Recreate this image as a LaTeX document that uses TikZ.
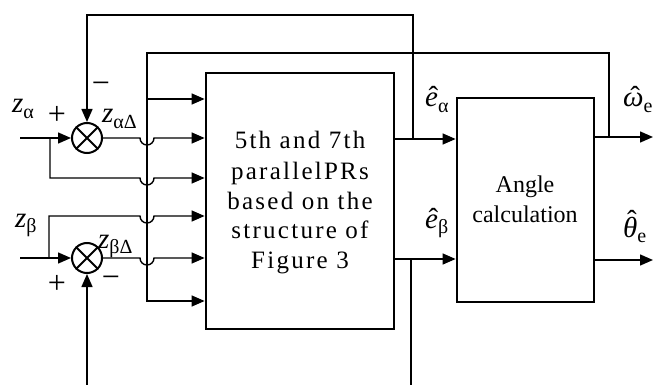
\documentclass[tikz,border=0pt]{standalone}
\usepackage{fontspec}
\setmainfont{Liberation Serif}
\newfontfamily\prfont[LetterSpace=9]{Liberation Serif}
\usetikzlibrary{arrows.meta}
\newcommand{\lsub}[1]{\raisebox{-0.2em}{\fontsize{20}{20}\selectfont #1}}
\newcommand{\hatl}[2][0em]{\ooalign{\textit{#2}\cr\hidewidth\raisebox{#1}{\kern0.12em ˆ}\hidewidth\cr}}
\tikzset{
  conn/.style={line width=1.4pt},
  arr/.style={conn,-{Triangle[length=13pt,width=11pt]}},
  blk/.style={draw,line width=2.8pt,inner sep=0pt},
  sumnode/.style={draw,circle,line width=2pt,minimum size=30pt,inner sep=0pt},
  lbl/.style={anchor=base west,inner sep=0pt,font=\fontsize{29}{29}\selectfont},
  sgn/.style={inner sep=0pt,font=\fontsize{32}{32}\selectfont},
  prtxt/.style={anchor=base,inner sep=0pt,font=\prfont\fontsize{25}{25}\selectfont},
  actxt/.style={anchor=base,inner sep=0pt,font=\fontsize{24}{24}\selectfont}
}
\begin{document}
\begin{tikzpicture}[x=1pt,y=-1pt]
\useasboundingbox (0,0) rectangle (653,385);
% blocks
\node[blk,minimum width=188pt,minimum height=256pt] (pr) at (300,201) {};
\node[blk,minimum width=137pt,minimum height=204pt] (ac) at (525.5,200) {};
\node[sumnode] (sa) at (87,138) {};
\node[sumnode] (sb) at (87,258) {};
\draw[line width=2pt] (sa.north east) -- (sa.south west) (sa.north west) -- (sa.south east);
\draw[line width=2pt] (sb.north east) -- (sb.south west) (sb.north west) -- (sb.south east);
% texts
\node[prtxt] (t1) at (300,149) {5th and 7th};
\node[prtxt] (t2) at (300,179) {parallelPRs};
\node[prtxt] (t3) at (300,209) {based on the};
\node[prtxt] (t4) at (300,238) {structure of};
\node[prtxt] (t5) at (300,268) {Figure 3};
\node[actxt] (a1) at (525,192) {Angle};
\node[actxt] (a2) at (525,222) {calculation};
% labels
\node[lbl] (lza) at (12,113) {\textit{z}\lsub{α}};
\node[lbl] (lzad) at (102,123) {\textit{z}\lsub{αΔ}};
\node[lbl] (lzb) at (15,227) {\textit{z}\lsub{β}};
\node[lbl] (lzbd) at (98,248) {\textit{z}\lsub{βΔ}};
\node[sgn] (pa) at (57,115) {+};
\node[sgn] (ma) at (101,88) {−};
\node[sgn] (pb) at (57,284) {+};
\node[sgn] (mb) at (111,282) {−};
\node[lbl] (lea) at (425,107) {\hatl{e}\lsub{α}};
\node[lbl] (leb) at (425,228) {\hatl{e}\lsub{β}};
\node[lbl] (lw) at (623,107) {\hatl{ω}\lsub{e}};
\node[lbl] (lth) at (623,237) {\hatl[0.22em]{θ}\lsub{e}};
% coordinates
\coordinate (ina) at (20,138);
\coordinate (inb) at (20,258);
\coordinate (bot1) at (87,385);
\coordinate (bot2) at (411,385);
\coordinate (outw) at (653,137);
\coordinate (outt) at (653,260);
% alpha path
\draw[arr] (ina) -- (sa.west);
\draw[arr] (50,138) -- (50,178) -- (140,178) arc[start angle=180,end angle=0,radius=7] -- (pr.west |- 0,178);
\draw[arr] (sa.east) -- (140,138) arc[start angle=180,end angle=0,radius=7] -- (pr.west |- 0,138);
% beta path
\draw[arr] (inb) -- (sb.west);
\draw[arr] (49,258) -- (49,216) -- (140,216) arc[start angle=180,end angle=0,radius=7] -- (pr.west |- 0,216);
\draw[arr] (sb.east) -- (140,258) arc[start angle=180,end angle=0,radius=7] -- (pr.west |- 0,258);
\draw[arr] (bot1) -- (sb.south);
% outputs of PR block
\draw[arr] (pr.east |- 0,139) -- (ac.west |- 0,139);
\draw[arr] (pr.east |- 0,259) -- (ac.west |- 0,259);
\draw[conn] (411,259) -- (bot2);
\draw[arr] (413,139) -- (413,15) -- (87,15) -- (sa.north);
% outputs of angle block
\draw[arr] (ac.east |- 0,137) -- (outw);
\draw[arr] (ac.east |- 0,260) -- (outt);
\draw[arr] (609,137) -- (609,53) -- (147,53) -- (147,301) -- (pr.west |- 0,301);
\draw[arr] (147,99) -- (pr.west |- 0,99);
\end{tikzpicture}
\end{document}
